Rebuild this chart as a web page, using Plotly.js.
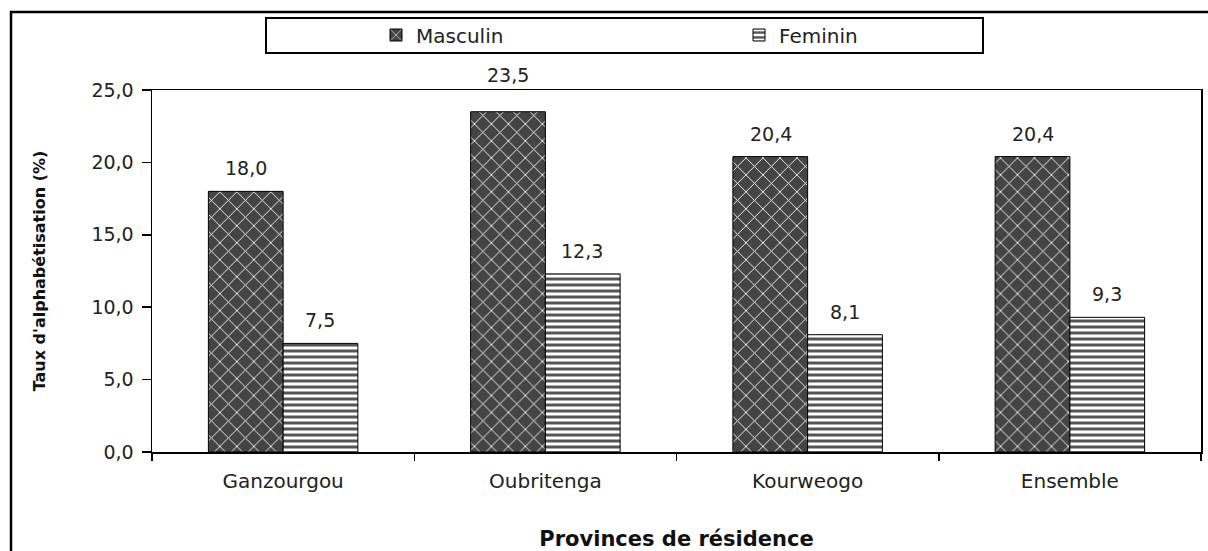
<!DOCTYPE html>
<html>
<head>
<meta charset="utf-8">
<script src="https://cdn.plot.ly/plotly-3.0.1.min.js"></script>
<style>html,body{margin:0;padding:0;background:#fff;}#chart{width:1208px;height:551px;}</style>
</head>
<body>
<div id="chart"></div>
<script>
var categories = ["Ganzourgou", "Oubritenga", "Kourweogo", "Ensemble"];
var masculin = [18.0, 23.5, 20.4, 20.4];
var feminin = [7.5, 12.3, 8.1, 9.3];
var seriesNames = ["Masculin", "Feminin"];
var yTicks = [0, 5, 10, 15, 20, 25];
var yMax = 25;

var font = "DejaVu Sans, Verdana, sans-serif";
function fmt(v) { return v.toFixed(1).replace(".", ","); }

var traces = [
  {
    type: "bar", name: seriesNames[0], x: categories, y: masculin,
    marker: {
      color: "#444444",
      line: {color: "#000", width: 1},
      pattern: {shape: "x", fgcolor: "#ffffff", bgcolor: "#444444", size: 12, solidity: 0.14, fillmode: "replace"}
    },
    hoverinfo: "skip"
  },
  {
    type: "bar", name: seriesNames[1], x: categories, y: feminin,
    marker: {
      color: "#ffffff",
      line: {color: "#000", width: 1},
      pattern: {shape: "-", fgcolor: "#555555", bgcolor: "#ffffff", size: 6, solidity: 0.5, fillmode: "replace"}
    },
    hoverinfo: "skip"
  }
];

var annotations = [];
var series = [masculin, feminin];
series.forEach(function (vals, s) {
  vals.forEach(function (v, i) {
    annotations.push({
      x: categories[i], y: v, xref: "x", yref: "y",
      text: fmt(v), showarrow: false, yanchor: "bottom",
      xshift: s === 0 ? -37 : 37,
      // labels that would collide with the plot frame are lifted above it
      yshift: (yMax - v) < 3 ? 24 : 10,
      font: {family: font, size: 19, color: "#222"}
    });
  });
});

var pw = 1049, ph = 362;
var shapes = [
  {type: "rect", xref: "paper", yref: "paper",
   x0: (11 - 152) / pw, x1: (1212 - 152) / pw,
   y0: (452 - 560) / ph, y1: 1 + (90 - 12) / ph,
   line: {color: "#000", width: 2.5}, fillcolor: "rgba(0,0,0,0)"},
  {type: "rect", xref: "paper", yref: "paper",
   x0: (266 - 152) / pw, x1: (983 - 152) / pw,
   y0: 1 + (90 - 53) / ph, y1: 1 + (90 - 18) / ph,
   line: {color: "#000", width: 2}, fillcolor: "rgba(0,0,0,0)"}
];

var layout = {
  width: 1208, height: 551,
  margin: {l: 152, r: 7, t: 90, b: 99, pad: 0},
  paper_bgcolor: "#fff", plot_bgcolor: "#fff",
  separators: ", ",
  barmode: "group", bargap: 0.43, bargroupgap: 0,
  showlegend: true,
  legend: {
    orientation: "h", x: (376 - 152) / pw, xanchor: "left",
    y: 1 + (90 - 35) / ph, yanchor: "middle",
    entrywidth: 318, entrywidthmode: "pixels",
    font: {family: font, size: 20, color: "#222"},
    bgcolor: "rgba(0,0,0,0)", borderwidth: 0,
    itemclick: false
  },
  xaxis: {
    type: "category", tickson: "boundaries", ticks: "outside", ticklen: 7, tickwidth: 1.5, tickcolor: "#000",
    showline: true, linecolor: "#000", linewidth: 1.5, mirror: true,
    showgrid: false, zeroline: false,
    ticklabelstandoff: 10,
    tickfont: {family: font, size: 20, color: "#222"},
    title: {text: "<b>Provinces de résidence</b>",
            font: {family: font, size: 21, color: "#111"}, standoff: 40}
  },
  yaxis: {
    range: [0, yMax], tickvals: yTicks, tickformat: ".1f",
    ticks: "outside", ticklen: 9, tickwidth: 1.5, tickcolor: "#000",
    showline: true, linecolor: "#000", linewidth: 1.5, mirror: true,
    showgrid: false, zeroline: false,
    ticklabelstandoff: 4,
    tickfont: {family: font, size: 19, color: "#222"},
    title: {text: "<b>Taux d'alphabétisation (%)</b>", font: {family: font, size: 16, color: "#111"}, standoff: 42}
  },
  shapes: shapes,
  annotations: annotations
};

Plotly.newPlot("chart", traces, layout, {displayModeBar: false, staticPlot: true});
</script>
</body>
</html>
